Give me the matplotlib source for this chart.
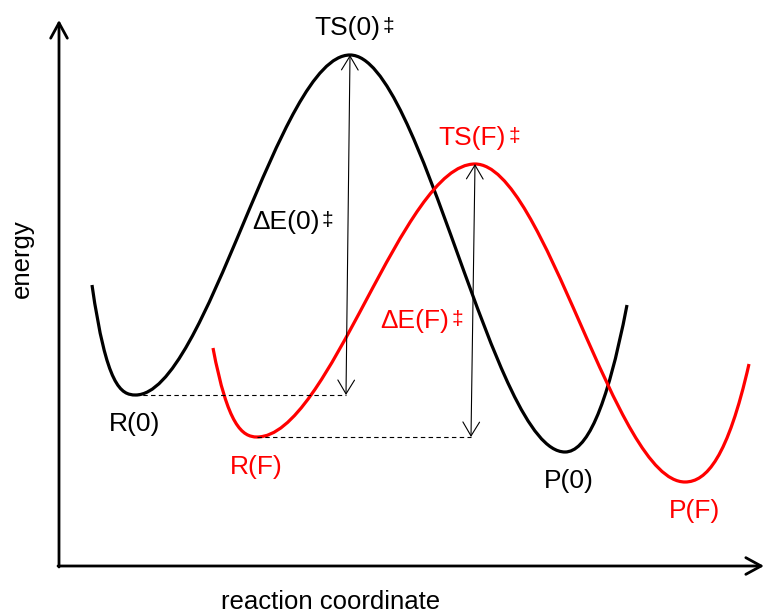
import numpy as np
import matplotlib
matplotlib.use("Agg")
import matplotlib.pyplot as plt
from matplotlib.path import Path
from matplotlib.patches import PathPatch

plt.rcParams['font.family'] = ['Liberation Sans', 'DejaVu Sans']

# ---- data (screen-like units: x = reaction coordinate, y grows downward = lower energy)
# nodes: wall end, minimum, maximum (TS), minimum, wall end
black_x = [92, 135.5, 350, 565, 627]
black_y = [285, 395, 55, 452, 305]
black_end_slopes = [7.0, -5.2]      # wall steepness at the two open ends

red_x = [213, 257, 475, 685, 749]
red_y = [348, 437, 164, 482, 364]
red_end_slopes = [5.3, -4.4]

arrow0_x = (350, 346)   # top, bottom x of the ΔE(0)‡ arrow
arrowF_x = (475, 471)   # top, bottom x of the ΔE(F)‡ arrow

labels = ["TS(0)", "TS(F)", "\u0394E(0)", "\u0394E(F)", "R(0)", "R(F)", "P(0)", "P(F)"]
label_pos = [(347.5, 35), (472.5, 145), (286, 229), (415, 328),
             (134.5, 431), (256.5, 474), (568.5, 488), (695, 518)]
label_ddag = [True, True, True, True, False, False, False, False]
label_col = ['black', 'red', 'black', 'red', 'black', 'red', 'black', 'red']


def hermite_path(xs, ys, end_slopes):
    """Piecewise cubic (in x) through the nodes; zero slope at inner extrema."""
    xs = np.asarray(xs, float)
    ys = np.asarray(ys, float)
    m = np.zeros(len(xs))
    m[0], m[-1] = end_slopes
    verts = [(xs[0], ys[0])]
    codes = [Path.MOVETO]
    for i in range(len(xs) - 1):
        d = xs[i + 1] - xs[i]
        verts.append((xs[i] + d / 3, ys[i] + m[i] * d / 3))
        verts.append((xs[i + 1] - d / 3, ys[i + 1] - m[i + 1] * d / 3))
        verts.append((xs[i + 1], ys[i + 1]))
        codes += [Path.CURVE4] * 3
    return Path(verts, codes)


fig = plt.figure(figsize=(7.65, 6.13), dpi=100)
ax = fig.add_axes([0, 0, 1, 1])
ax.set_xlim(0, 765)
ax.set_ylim(613, 0)
ax.axis('off')

# axes with arrows
ax.annotate('', xy=(59, 20), xytext=(59, 567),
            arrowprops=dict(arrowstyle='->,head_length=0.55,head_width=0.3', lw=2.0,
                            color='black', shrinkA=0, shrinkB=0, mutation_scale=20))
ax.annotate('', xy=(764, 566), xytext=(58, 566),
            arrowprops=dict(arrowstyle='->,head_length=0.55,head_width=0.3', lw=2.0,
                            color='black', shrinkA=0, shrinkB=0, mutation_scale=20))

# curves
ax.add_patch(PathPatch(hermite_path(black_x, black_y, black_end_slopes), fill=False,
                       edgecolor='black', lw=2.3, capstyle='butt'))
ax.add_patch(PathPatch(hermite_path(red_x, red_y, red_end_slopes), fill=False,
                       edgecolor='#ff0000', lw=2.3, capstyle='butt'))

# dashed reference lines from the reactant minima
ax.plot([black_x[1], arrow0_x[1]], [black_y[1], black_y[1]], ls=(0, (4, 3)), color='black', lw=0.8)
ax.plot([red_x[1], arrowF_x[1]], [red_y[1], red_y[1]], ls=(0, (4, 3)), color='black', lw=0.8)

# double arrows (barrier heights)
for (xt, xb), top, bot in [(arrow0_x, black_y[2], black_y[1]), (arrowF_x, red_y[2], red_y[1])]:
    ax.annotate('', xy=(xt, top), xytext=(xb, bot),
                arrowprops=dict(arrowstyle='<->,head_length=0.5,head_width=0.3', lw=0.8,
                                color='black', shrinkA=0, shrinkB=0, mutation_scale=20))

# labels
for txt, (x, y), dd, col in zip(labels, label_pos, label_ddag, label_col):
    t = ax.text(x, y, txt, ha='center', va='baseline', fontsize=19, color=col)
    if dd:
        ax.annotate('\u2021', xy=(1, y), xycoords=(t, 'data'), xytext=(2, 3),
                    textcoords='offset pixels', ha='left', va='baseline',
                    fontsize=15, color=col)

ax.text(22, 259, 'energy', rotation=90, ha='center', va='center', fontsize=18.5)
ax.text(331, 602, 'reaction coordinate', ha='center', va='center', fontsize=18.5)

fig.savefig('out.png', dpi=100)
